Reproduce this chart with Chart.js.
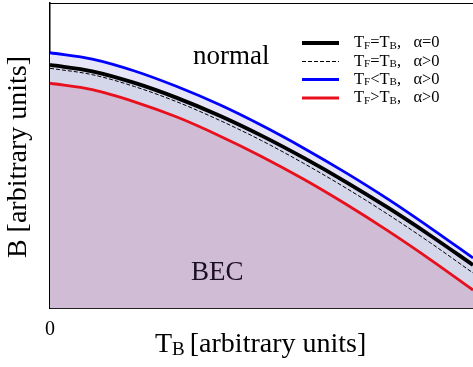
<!DOCTYPE html>
<html>
<head>
<meta charset="utf-8">
<script src="https://cdn.jsdelivr.net/npm/chart.js@4/dist/chart.umd.min.js"></script>
<style>
html,body{margin:0;padding:0;background:#fff;}
#wrap{width:473px;height:367px;position:relative;}
</style>
</head>
<body>
<div id="wrap"><canvas id="c"></canvas></div>
<script>
// T_B positions (arbitrary units)
const tB = [0, 0.1, 0.2, 0.3, 0.4, 0.5, 0.6, 0.7, 0.8, 0.9, 1.0];
// B values (arbitrary units)
const bEqualAlpha0 = [0.797, 0.776, 0.738, 0.689, 0.631, 0.565, 0.492, 0.413, 0.328, 0.237, 0.141];
const bEqualAlphaPos = [0.786, 0.765, 0.726, 0.676, 0.616, 0.549, 0.474, 0.393, 0.306, 0.213, 0.115];
const bFLessB = [0.837, 0.816, 0.777, 0.726, 0.667, 0.599, 0.524, 0.443, 0.356, 0.262, 0.164];
const bFGreaterB = [0.737, 0.716, 0.676, 0.626, 0.565, 0.497, 0.422, 0.340, 0.252, 0.158, 0.059];
const legendLabels = [
  ["T","F","=T","B",",   α=0"],
  ["T","F","=T","B",",   α>0"],
  ["T","F","<T","B",",   α>0"],
  ["T","F",">T","B",",   α>0"]
];

const pts = arr => arr.map((v,i)=>({x:tB[i], y:v}));
const SERIF = '"Liberation Serif","DejaVu Serif",serif';

const textPlugin = {
  id:'texts',
  afterDatasetsDraw(chart){
    const ctx = chart.ctx, a = chart.chartArea;
    ctx.save();
    // top border
    ctx.strokeStyle = '#000'; ctx.lineWidth = 1.2;
    ctx.beginPath(); ctx.moveTo(a.left, a.top+0.5); ctx.lineTo(a.right, a.top+0.5); ctx.stroke();
    ctx.fillStyle = '#000';
    ctx.textBaseline = 'middle';
    // region labels
    ctx.font = '27px ' + SERIF;
    ctx.textAlign = 'left';
    ctx.fillText('normal', 193, 57);
    ctx.fillStyle = '#1a0f24';
    ctx.fillText('BEC', 191, 273);
    ctx.fillStyle = '#000';
    // legend
    const rows = [43, 61.5, 79.5, 98];
    const ds = chart.data.datasets;
    rows.forEach((y,i)=>{
      const d = ds[i];
      ctx.strokeStyle = d.borderColor;
      ctx.lineWidth = d.legendWidth;
      ctx.setLineDash(d.borderDash || []);
      ctx.beginPath(); ctx.moveTo(302, y); ctx.lineTo(339, y); ctx.stroke();
      ctx.setLineDash([]);
      const p = legendLabels[i];
      let x = 354;
      ctx.textAlign = 'left';
      ctx.font = '16.5px ' + SERIF;
      ctx.fillText(p[0], x, y); x += ctx.measureText(p[0]).width;
      ctx.font = '11px ' + SERIF;
      ctx.fillText(p[1], x, y+3); x += ctx.measureText(p[1]).width;
      ctx.font = '16.5px ' + SERIF;
      ctx.fillText(p[2], x, y); x += ctx.measureText(p[2]).width;
      ctx.font = '11px ' + SERIF;
      ctx.fillText(p[3], x, y+3); x += ctx.measureText(p[3]).width;
      ctx.font = '16.5px ' + SERIF;
      ctx.fillText(p[4], x, y);
    });
    // tick 0
    ctx.font = '20px ' + SERIF;
    ctx.textAlign = 'center';
    ctx.fillText('0', chart.scales.x.getPixelForValue(0), 330);
    // x title with subscript
    ctx.textAlign = 'left';
    ctx.font = '28px ' + SERIF;
    let x = 155;
    ctx.fillText('T', x, 345); x += ctx.measureText('T').width;
    ctx.font = '19px ' + SERIF;
    ctx.fillText('B', x, 350); x += ctx.measureText('B').width + 5;
    ctx.font = '28px ' + SERIF;
    ctx.fillText('[arbitrary units]', x, 345);
    // y title
    ctx.translate(19, 157);
    ctx.rotate(-Math.PI/2);
    ctx.textAlign = 'center';
    ctx.fillText('B [arbitrary units]', 0, 0);
    ctx.restore();
  }
};

new Chart(document.getElementById('c'), {
  type:'line',
  data:{
    datasets:[
      {label:'TF=TB, α=0', data:pts(bEqualAlpha0), borderColor:'#000', borderWidth:3.8, legendWidth:4,
       fill:{target:3}, backgroundColor:'#d4d6ea', order:1},
      {label:'TF=TB, α>0', data:pts(bEqualAlphaPos), borderColor:'#000', borderWidth:1, legendWidth:1,
       borderDash:[4,2], fill:false, order:0},
      {label:'TF<TB, α>0', data:pts(bFLessB), borderColor:'#0000ff', borderWidth:2.8, legendWidth:2.8,
       fill:{target:0}, backgroundColor:'#e6e6f8', order:2},
      {label:'TF>TB, α>0', data:pts(bFGreaterB), borderColor:'#e8101c', borderWidth:2.8, legendWidth:2.8,
       fill:'origin', backgroundColor:'#d0bcd4', order:3}
    ]
  },
  options:{
    responsive:true, maintainAspectRatio:false, animation:false,
    devicePixelRatio:1,
    layout:{padding:{left:50, top:3, right:0, bottom:59}},
    elements:{point:{radius:0}, line:{cubicInterpolationMode:'monotone'}},
    plugins:{legend:{display:false}, tooltip:{enabled:false},
             filler:{propagate:false, drawTime:'beforeDatasetsDraw'}},
    scales:{
      x:{type:'linear', min:0, max:1, grid:{display:false, drawTicks:false},
         ticks:{display:false}, border:{display:true, color:'#222', width:2},
         afterFit(s){s.height=0;}},
      y:{min:0, max:1, grid:{display:false, drawTicks:false},
         ticks:{display:false}, border:{display:true, color:'#000', width:1.5},
         afterFit(s){s.width=0;}}
    }
  },
  plugins:[textPlugin]
});
</script>
</body>
</html>
